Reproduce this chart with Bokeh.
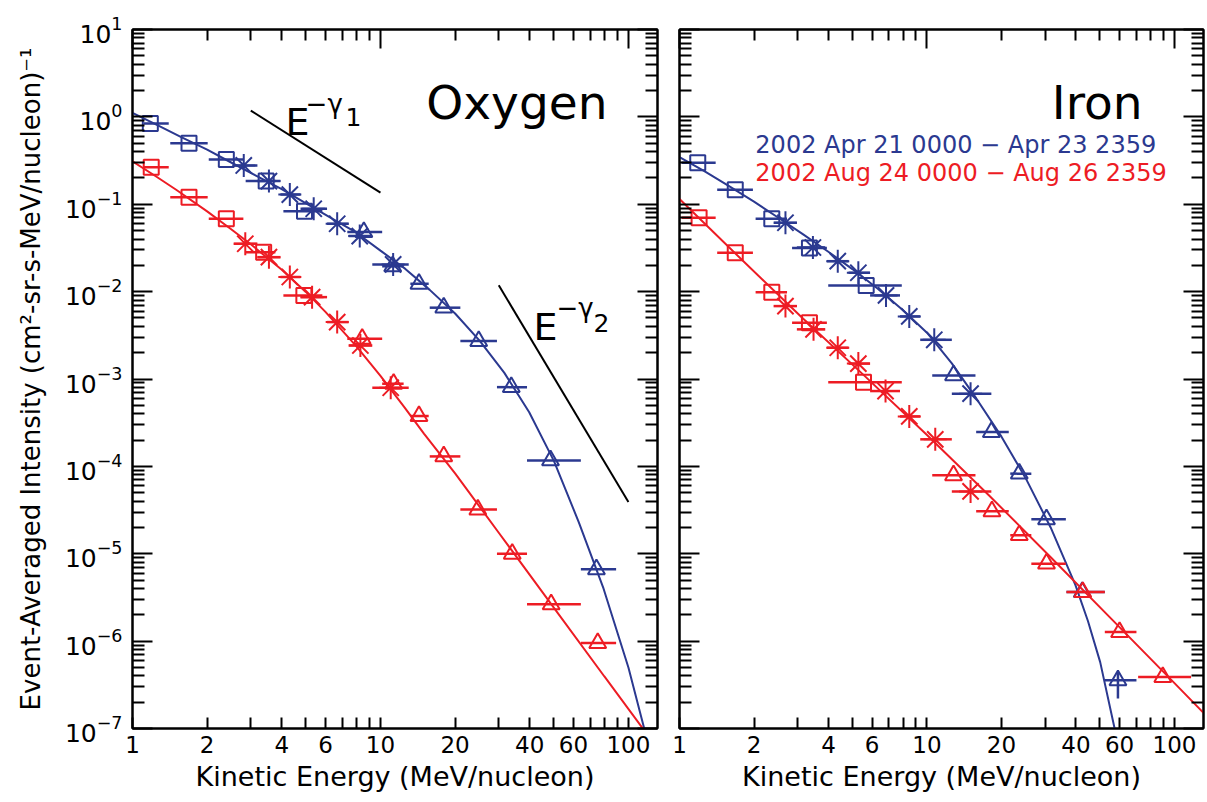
from bokeh.plotting import figure
from bokeh.layouts import row
from bokeh.models import (LogAxis, FixedTicker, PrintfTickFormatter, Label,
                          CustomJSTickFormatter)
from bokeh.embed import file_html
from bokeh.resources import INLINE

BLUE = "#2b3990"
RED = "#ed1c24"
FONT = "DejaVu Sans"

# ---------------- axis ticks ----------------
y_major = [1e-7, 1e-6, 1e-5, 1e-4, 1e-3, 1e-2, 1e-1, 1e0, 1e1]
y_minor = [m * 10.0 ** e for e in range(-7, 1) for m in range(2, 10)]
x_label_ticks = [1, 2, 4, 6, 10, 20, 40, 60, 100]
x_minor_bottom = [3, 5, 7, 8, 9, 30, 50, 70, 80, 90]
x_decades = [1, 10, 100]
x_minor_top = [2, 3, 4, 5, 6, 7, 8, 9, 20, 30, 40, 50, 60, 70, 80, 90]

# ---------------- Oxygen data ----------------
o_sq_lo = [1.11, 1.42, 2.03, 2.86, 4.06]
o_sq_hi = [1.40, 2.01, 2.80, 3.77, 5.83]
o_blue_sq_x = [1.18, 1.69, 2.39, 3.46, 4.94]
o_blue_sq_y = [0.84, 0.50, 0.326, 0.184, 0.0834]
o_red_sq_x = [1.19, 1.69, 2.39, 3.38, 4.91]
o_red_sq_y = [0.266, 0.12, 0.0683, 0.0283, 0.00905]

o_ast_lo = [2.56, 3.19, 3.95, 4.76, 6.09, 7.44, 9.27]
o_ast_hi = [3.19, 3.95, 4.76, 6.09, 7.44, 9.27, 13.0]
o_blue_ast_x = [2.81, 3.55, 4.31, 5.38, 6.69, 8.25, 11.25]
o_blue_ast_y = [0.278, 0.184, 0.129, 0.0888, 0.0598, 0.0432, 0.0205]
o_red_ast_x = [2.85, 3.55, 4.31, 5.30, 6.69, 8.30, 11.0]
o_red_ast_y = [0.0353, 0.0248, 0.0147, 0.00865, 0.00448, 0.00242, 7.94e-4]

o_tri_lo = [7.35, 10.16, 13.2, 15.8, 21.0, 29.5, 39.0, 64.3]
o_tri_hi = [10.16, 12.4, 15.65, 21.0, 29.5, 39.0, 64.3, 89.2]
o_blue_tri_x = [8.57, 11.2, 14.3, 18.0, 24.9, 33.7, 48.5, 74.3]
o_blue_tri_y = [0.048, 0.0195, 0.0123, 0.00655, 0.00272, 8.07e-4, 1.17e-4, 6.63e-6]
o_red_tri_x = [8.44, 11.3, 14.3, 18.0, 24.7, 34.0, 48.8, 75.2]
o_red_tri_y = [0.00289, 8.83e-4, 3.77e-4, 1.30e-4, 3.20e-5, 1.00e-5, 2.64e-6, 9.5e-7]

o_blue_fit_x = [1, 1.26, 1.58, 2, 2.51, 3.16, 3.98, 5.01, 6.31, 7.94, 10, 12.6,
                15.8, 20, 25.1, 31.6, 39.8, 50.1, 63.1, 79.4, 100, 115.3, 118]
o_blue_fit_y = [1.109, 0.804, 0.582, 0.422, 0.2985, 0.2113, 0.1496, 0.1023, 0.070,
                0.0479, 0.0295, 0.0182, 0.01047, 0.00562, 0.002754, 0.001175,
                4.17e-4, 1.148e-4, 2.29e-5, 3.98e-6, 5.0e-7, 1.05e-7, 8.1e-8]
o_red_fit_x = [1, 1.25, 1.5, 2, 2.5, 3, 4, 5, 6, 8, 10, 12.5, 15, 20, 30, 50, 80, 120]
o_red_fit_y = [0.309, 0.2065, 0.1466, 0.0828, 0.0518, 0.0348, 0.0178, 0.00993,
               0.00587, 0.002366, 0.001084, 4.74e-4, 2.355e-4, 8.32e-5, 1.74e-5,
               2.42e-6, 3.94e-7, 8.3e-8]

gamma1_x = [3.0, 10.0]
gamma1_y = [1.18, 0.136]
gamma2_x = [30.0, 100.0]
gamma2_y = [0.0118, 3.9e-5]

# ---------------- Iron data ----------------
fe_sq_lo = [1.02, 1.42, 2.03, 2.85, 3.99]
fe_sq_hi = [1.40, 1.98, 2.72, 3.94, 7.91]
fe_blue_sq_x = [1.185, 1.68, 2.36, 3.35, 5.68]
fe_blue_sq_y = [0.298, 0.1466, 0.0683, 0.0315, 0.01178]
fe_red_sq_x = [1.20, 1.68, 2.36, 3.35, 5.54]
fe_red_sq_y = [0.070, 0.0279, 0.00986, 0.0044, 9.2e-4]

fe_ast_lo = [2.40, 2.98, 3.94, 4.82, 5.89, 7.78, 9.39, 12.6]
fe_ast_hi = [2.98, 3.88, 4.82, 5.89, 7.78, 9.39, 12.6, 18.2]
fe_blue_ast_x = [2.68, 3.46, 4.36, 5.28, 6.83, 8.48, 10.7, 15.0]
fe_blue_ast_y = [0.0614, 0.032, 0.0223, 0.01644, 0.00905, 0.0052, 0.00281, 6.79e-4]
fe_red_ast_x = [2.68, 3.48, 4.36, 5.28, 6.80, 8.48, 10.8, 15.0]
fe_red_ast_y = [0.00683, 0.0037, 0.00228, 0.0015, 7.28e-4, 3.73e-4, 2.04e-4, 5.17e-5]

fe_tri_lo = [10.5, 15.8, 21.7, 26.4, 36.6, 52.3, 71.3]
fe_tri_hi = [15.7, 21.4, 26.4, 36.4, 52.3, 70.2, 116.7]
fe_blue_tri_x = [12.8, 18.2, 23.6, 30.4, 42.4, 59.1]
fe_blue_tri_y = [0.0011, 2.47e-4, 8.26e-5, 2.48e-5, 3.65e-6, 3.56e-7]
fe_blue_tri_ylo = [0.0011, 2.47e-4, 8.26e-5, 2.48e-5, 3.65e-6, 2.2e-7]
fe_blue_tri_yhi = [0.0011, 2.47e-4, 8.26e-5, 2.48e-5, 3.65e-6, 4.43e-7]
fe_red_tri_x = [12.8, 18.3, 23.6, 30.4, 42.6, 60.0, 89.7]
fe_red_tri_y = [7.9e-5, 3.06e-5, 1.63e-5, 7.7e-6, 3.65e-6, 1.27e-6, 3.88e-7]

fe_blue_fit_x = [1, 1.26, 1.58, 2, 2.51, 3.16, 3.98, 5.01, 6.31, 7.94, 10, 12.6,
                 15.8, 20, 25.1, 31.6, 39.8, 44.7, 50.1, 57.3, 60]
fe_blue_fit_y = [0.347, 0.240, 0.162, 0.107, 0.070, 0.0452, 0.0288, 0.0180, 0.01084,
                 0.00624, 0.00339, 0.00151, 6.03e-4, 2.19e-4, 7.24e-5, 2.0e-5,
                 4.37e-6, 1.70e-6, 5.75e-7, 1.0e-7, 5.5e-8]
fe_red_fit_x = [1, 1.778, 3.162, 5.623, 10, 17.78, 31.62, 56.23, 100, 131]
fe_red_fit_y = [0.1148, 0.02344, 0.0049, 0.001072, 2.29e-4, 4.68e-5, 9.12e-6,
                1.74e-6, 3.31e-7, 1.51e-7]

legend_blue = "2002 Apr 21 0000 \u2212 Apr 23 2359"
legend_red = "2002 Aug 24 0000 \u2212 Aug 26 2359"
x_title = "Kinetic Energy (MeV/nucleon)"
y_title = "Event-Averaged Intensity (cm\u00b2-sr-s-MeV/nucleon)\u207b\u00b9"


def style_axis(ax, major_in, minor_in):
    ax.axis_line_width = 2
    ax.axis_line_color = "black"
    ax.major_tick_line_width = 2
    ax.minor_tick_line_width = 2
    ax.major_tick_line_color = "black"
    ax.minor_tick_line_color = "black"
    ax.major_tick_in = major_in
    ax.major_tick_out = 0
    ax.minor_tick_in = minor_in
    ax.minor_tick_out = 0


def blank_labels(ax):
    ax.formatter = CustomJSTickFormatter(code="return '';")
    ax.major_label_standoff = 0
    ax.major_label_text_font_size = "8px"


def make_panel(fw, bl, br, ylabels):
    p = figure(x_axis_type="log", y_axis_type="log", x_range=(1, 131),
               y_range=(1e-7, 10), frame_width=fw, frame_height=699,
               min_border_left=bl, min_border_right=br, min_border_top=29,
               min_border_bottom=74, output_backend="svg", toolbar_location=None,
               background_fill_color="white", border_fill_color="white")
    p.grid.visible = False
    p.outline_line_color = "black"
    p.outline_line_width = 2

    xb = p.xaxis[0]
    xb.ticker = FixedTicker(ticks=x_label_ticks, minor_ticks=x_minor_bottom)
    xb.formatter = PrintfTickFormatter(format="%d")
    style_axis(xb, 11, 11)
    xb.major_label_text_font = FONT
    xb.major_label_text_font_size = "23px"
    xb.major_label_text_color = "black"
    xb.major_label_standoff = 7
    xb.axis_label = x_title
    xb.axis_label_text_font = FONT
    xb.axis_label_text_font_size = "27px"
    xb.axis_label_text_font_style = "normal"
    xb.axis_label_text_color = "black"
    xb.axis_label_standoff = 5

    yl = p.yaxis[0]
    yl.ticker = FixedTicker(ticks=y_major, minor_ticks=y_minor)
    style_axis(yl, 20, 12)
    if ylabels:
        yl.major_label_text_font = FONT
        yl.major_label_text_font_size = "25px"
        yl.major_label_text_color = "black"
        yl.major_label_standoff = 10
        yl.axis_label = y_title
        yl.axis_label_text_font = FONT
        yl.axis_label_text_font_size = "26px"
        yl.axis_label_text_font_style = "normal"
        yl.axis_label_text_color = "black"
        yl.axis_label_standoff = 16
    else:
        blank_labels(yl)

    top = LogAxis(ticker=FixedTicker(ticks=x_decades, minor_ticks=x_minor_top))
    style_axis(top, 19, 11)
    blank_labels(top)
    p.add_layout(top, "above")

    right = LogAxis(ticker=FixedTicker(ticks=y_major, minor_ticks=y_minor))
    style_axis(right, 20, 12)
    blank_labels(right)
    p.add_layout(right, "right")
    return p


def draw_series(p, color, groups, fit_x, fit_y):
    for (xs, ys, lo, hi, marker, size) in groups:
        p.segment(x0=lo, y0=ys, x1=hi, y1=ys, line_color=color, line_width=2.5)
    p.line(fit_x, fit_y, line_color=color, line_width=2)
    for (xs, ys, lo, hi, marker, size) in groups:
        p.scatter(xs, ys, marker=marker, size=size, fill_color=None,
                  line_color=color, line_width=2)


# ---------------- left panel: Oxygen ----------------
p1 = make_panel(525, 132, 11, True)
draw_series(p1, BLUE, [
    (o_blue_sq_x, o_blue_sq_y, o_sq_lo, o_sq_hi, "square", 15),
    (o_blue_ast_x, o_blue_ast_y, o_ast_lo, o_ast_hi, "asterisk", 23),
    (o_blue_tri_x, o_blue_tri_y, o_tri_lo, o_tri_hi, "triangle", 17),
], o_blue_fit_x, o_blue_fit_y)
draw_series(p1, RED, [
    (o_red_sq_x, o_red_sq_y, o_sq_lo, o_sq_hi, "square", 15),
    (o_red_ast_x, o_red_ast_y, o_ast_lo, o_ast_hi, "asterisk", 23),
    (o_red_tri_x, o_red_tri_y, o_tri_lo, o_tri_hi, "triangle", 17),
], o_red_fit_x, o_red_fit_y)
p1.line(gamma1_x, gamma1_y, line_color="black", line_width=2)
p1.line(gamma2_x, gamma2_y, line_color="black", line_width=2)

p1.add_layout(Label(x=82.3, y=1.46, text="Oxygen", text_font=FONT,
                    text_font_size="47px", text_align="right",
                    text_baseline="alphabetic", text_color="black"))
p1.add_layout(Label(x=4.14, y=0.863, text="E", text_font=FONT, text_font_size="38px",
                    text_align="left", text_baseline="alphabetic", text_color="black"))
p1.add_layout(Label(x=4.99, y=1.42, text="\u2212\u03b3", text_font=FONT,
                    text_font_size="26px", text_align="left",
                    text_baseline="alphabetic", text_color="black"))
p1.add_layout(Label(x=7.22, y=0.984, text="1", text_font=FONT, text_font_size="25px",
                    text_align="left", text_baseline="alphabetic", text_color="black"))
p1.add_layout(Label(x=41.4, y=0.00389, text="E", text_font=FONT, text_font_size="38px",
                    text_align="left", text_baseline="alphabetic", text_color="black"))
p1.add_layout(Label(x=51.3, y=0.00643, text="\u2212\u03b3", text_font=FONT,
                    text_font_size="26px", text_align="left",
                    text_baseline="alphabetic", text_color="black"))
p1.add_layout(Label(x=72.3, y=0.00433, text="2", text_font=FONT, text_font_size="25px",
                    text_align="left", text_baseline="alphabetic", text_color="black"))

# ---------------- right panel: Iron ----------------
p2 = make_panel(524, 11, 4, False)
draw_series(p2, BLUE, [
    (fe_blue_sq_x, fe_blue_sq_y, fe_sq_lo, fe_sq_hi, "square", 15),
    (fe_blue_ast_x, fe_blue_ast_y, fe_ast_lo, fe_ast_hi, "asterisk", 23),
    (fe_blue_tri_x, fe_blue_tri_y, fe_tri_lo[:6], fe_tri_hi[:6], "triangle", 17),
], fe_blue_fit_x, fe_blue_fit_y)
p2.segment(x0=fe_blue_tri_x, y0=fe_blue_tri_ylo, x1=fe_blue_tri_x, y1=fe_blue_tri_yhi,
           line_color=BLUE, line_width=2.5)
draw_series(p2, RED, [
    (fe_red_sq_x, fe_red_sq_y, fe_sq_lo, fe_sq_hi, "square", 15),
    (fe_red_ast_x, fe_red_ast_y, fe_ast_lo, fe_ast_hi, "asterisk", 23),
    (fe_red_tri_x, fe_red_tri_y, fe_tri_lo, fe_tri_hi, "triangle", 17),
], fe_red_fit_x, fe_red_fit_y)

p2.add_layout(Label(x=74.3, y=1.46, text="Iron", text_font=FONT,
                    text_font_size="47px", text_align="right",
                    text_baseline="alphabetic", text_color="black"))
p2.add_layout(Label(x=2.025, y=0.471, text=legend_blue, text_font=FONT,
                    text_font_size="24px", text_align="left",
                    text_baseline="alphabetic", text_color=BLUE))
p2.add_layout(Label(x=2.025, y=0.225, text=legend_red, text_font=FONT,
                    text_font_size="24px", text_align="left",
                    text_baseline="alphabetic", text_color=RED))

layout = row(p1, p2)
open("out.html", "w").write(file_html(layout, INLINE))
